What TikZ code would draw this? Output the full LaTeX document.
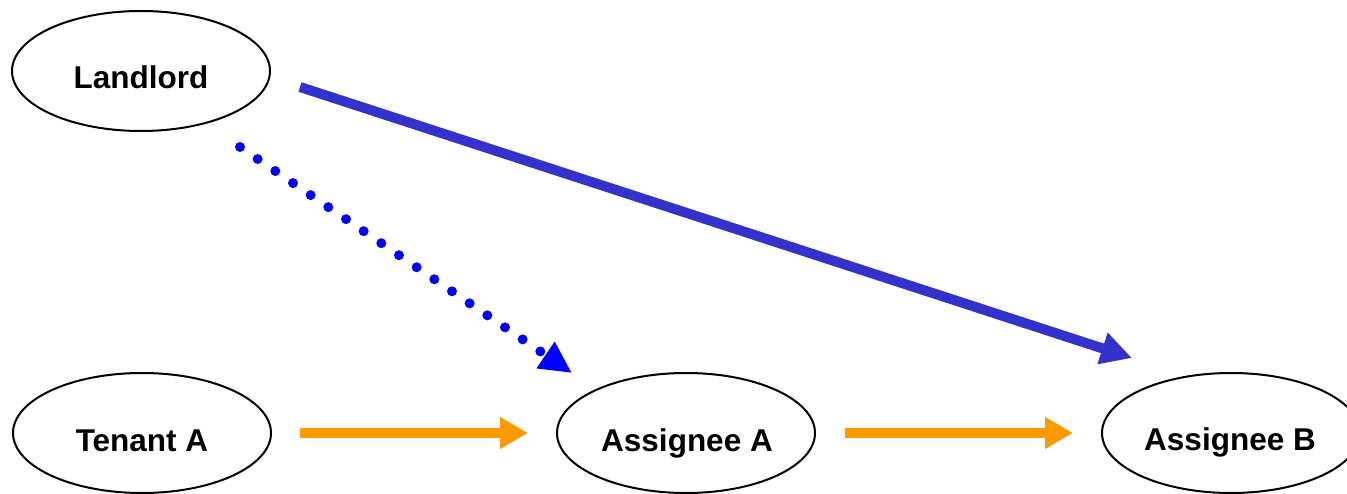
\documentclass[tikz,border=0pt]{standalone}
\usepackage{fontspec}
\setmainfont{Liberation Sans}
\usetikzlibrary{shapes.geometric,arrows.meta}
\definecolor{dotblue}{RGB}{0,0,255}
\definecolor{solidblue}{RGB}{51,51,204}
\definecolor{orng}{RGB}{255,153,0}
\begin{document}
\begin{tikzpicture}[x=1pt,y=-1pt,
  ell/.style={ellipse,draw=black,line width=2pt,minimum width=258pt,minimum height=120pt,inner sep=0pt},
  lbl/.style={font=\fontsize{31.5}{36}\selectfont\bfseries,text height=22.6pt,text depth=0pt,inner sep=0pt,anchor=center},
  orarrow/.style={draw=orng,line width=10pt,-{Triangle[length=28pt,width=30pt]}},
  dotarrow/.style={draw=dotblue,line width=10pt,line cap=round,dash pattern=on 0pt off 21.37pt,-{Triangle[length=32pt,width=30pt]}},
  bigarrow/.style={draw=solidblue,line width=10pt,-{Triangle[length=31pt,width=31pt]}}]
\useasboundingbox (0,0) rectangle (1347,494);
\fill[white] (0,0) rectangle (1347,494);
\begin{scope}
\clip (0,0) rectangle (1347,494);
\node[ell] (L) at (141,71) {};
\node[ell] (T) at (142,433) {};
\node[ell] (AA) at (686,433) {};
\node[ell] (AB) at (1231,433) {};
\end{scope}
\node[lbl] (Ltxt) at ([yshift=-6pt]L.center) {Landlord};
\node[lbl] (Ttxt) at ([yshift=-7pt]T.center) {Tenant A};
\node[lbl] (AAtxt) at ([yshift=-7pt,xshift=1pt]AA.center) {Assignee A};
\node[lbl] (ABtxt) at ([yshift=-6pt,xshift=-1pt]AB.center) {Assignee B};
% connector end points
\coordinate (s1) at (300,87);
\coordinate (e1) at (1132,358);
\coordinate (s2) at (240,147);
\coordinate (e2) at (572,373);
\coordinate (s3) at (300,433);
\coordinate (e3) at (528,433);
\coordinate (s4) at (845,433);
\coordinate (e4) at (1073,433);
\draw[bigarrow] (s1) -- (e1);
\draw[dotarrow] (s2) -- (e2);
\draw[orarrow] (s3) -- (e3);
\draw[orarrow] (s4) -- (e4);
\end{tikzpicture}
\end{document}
